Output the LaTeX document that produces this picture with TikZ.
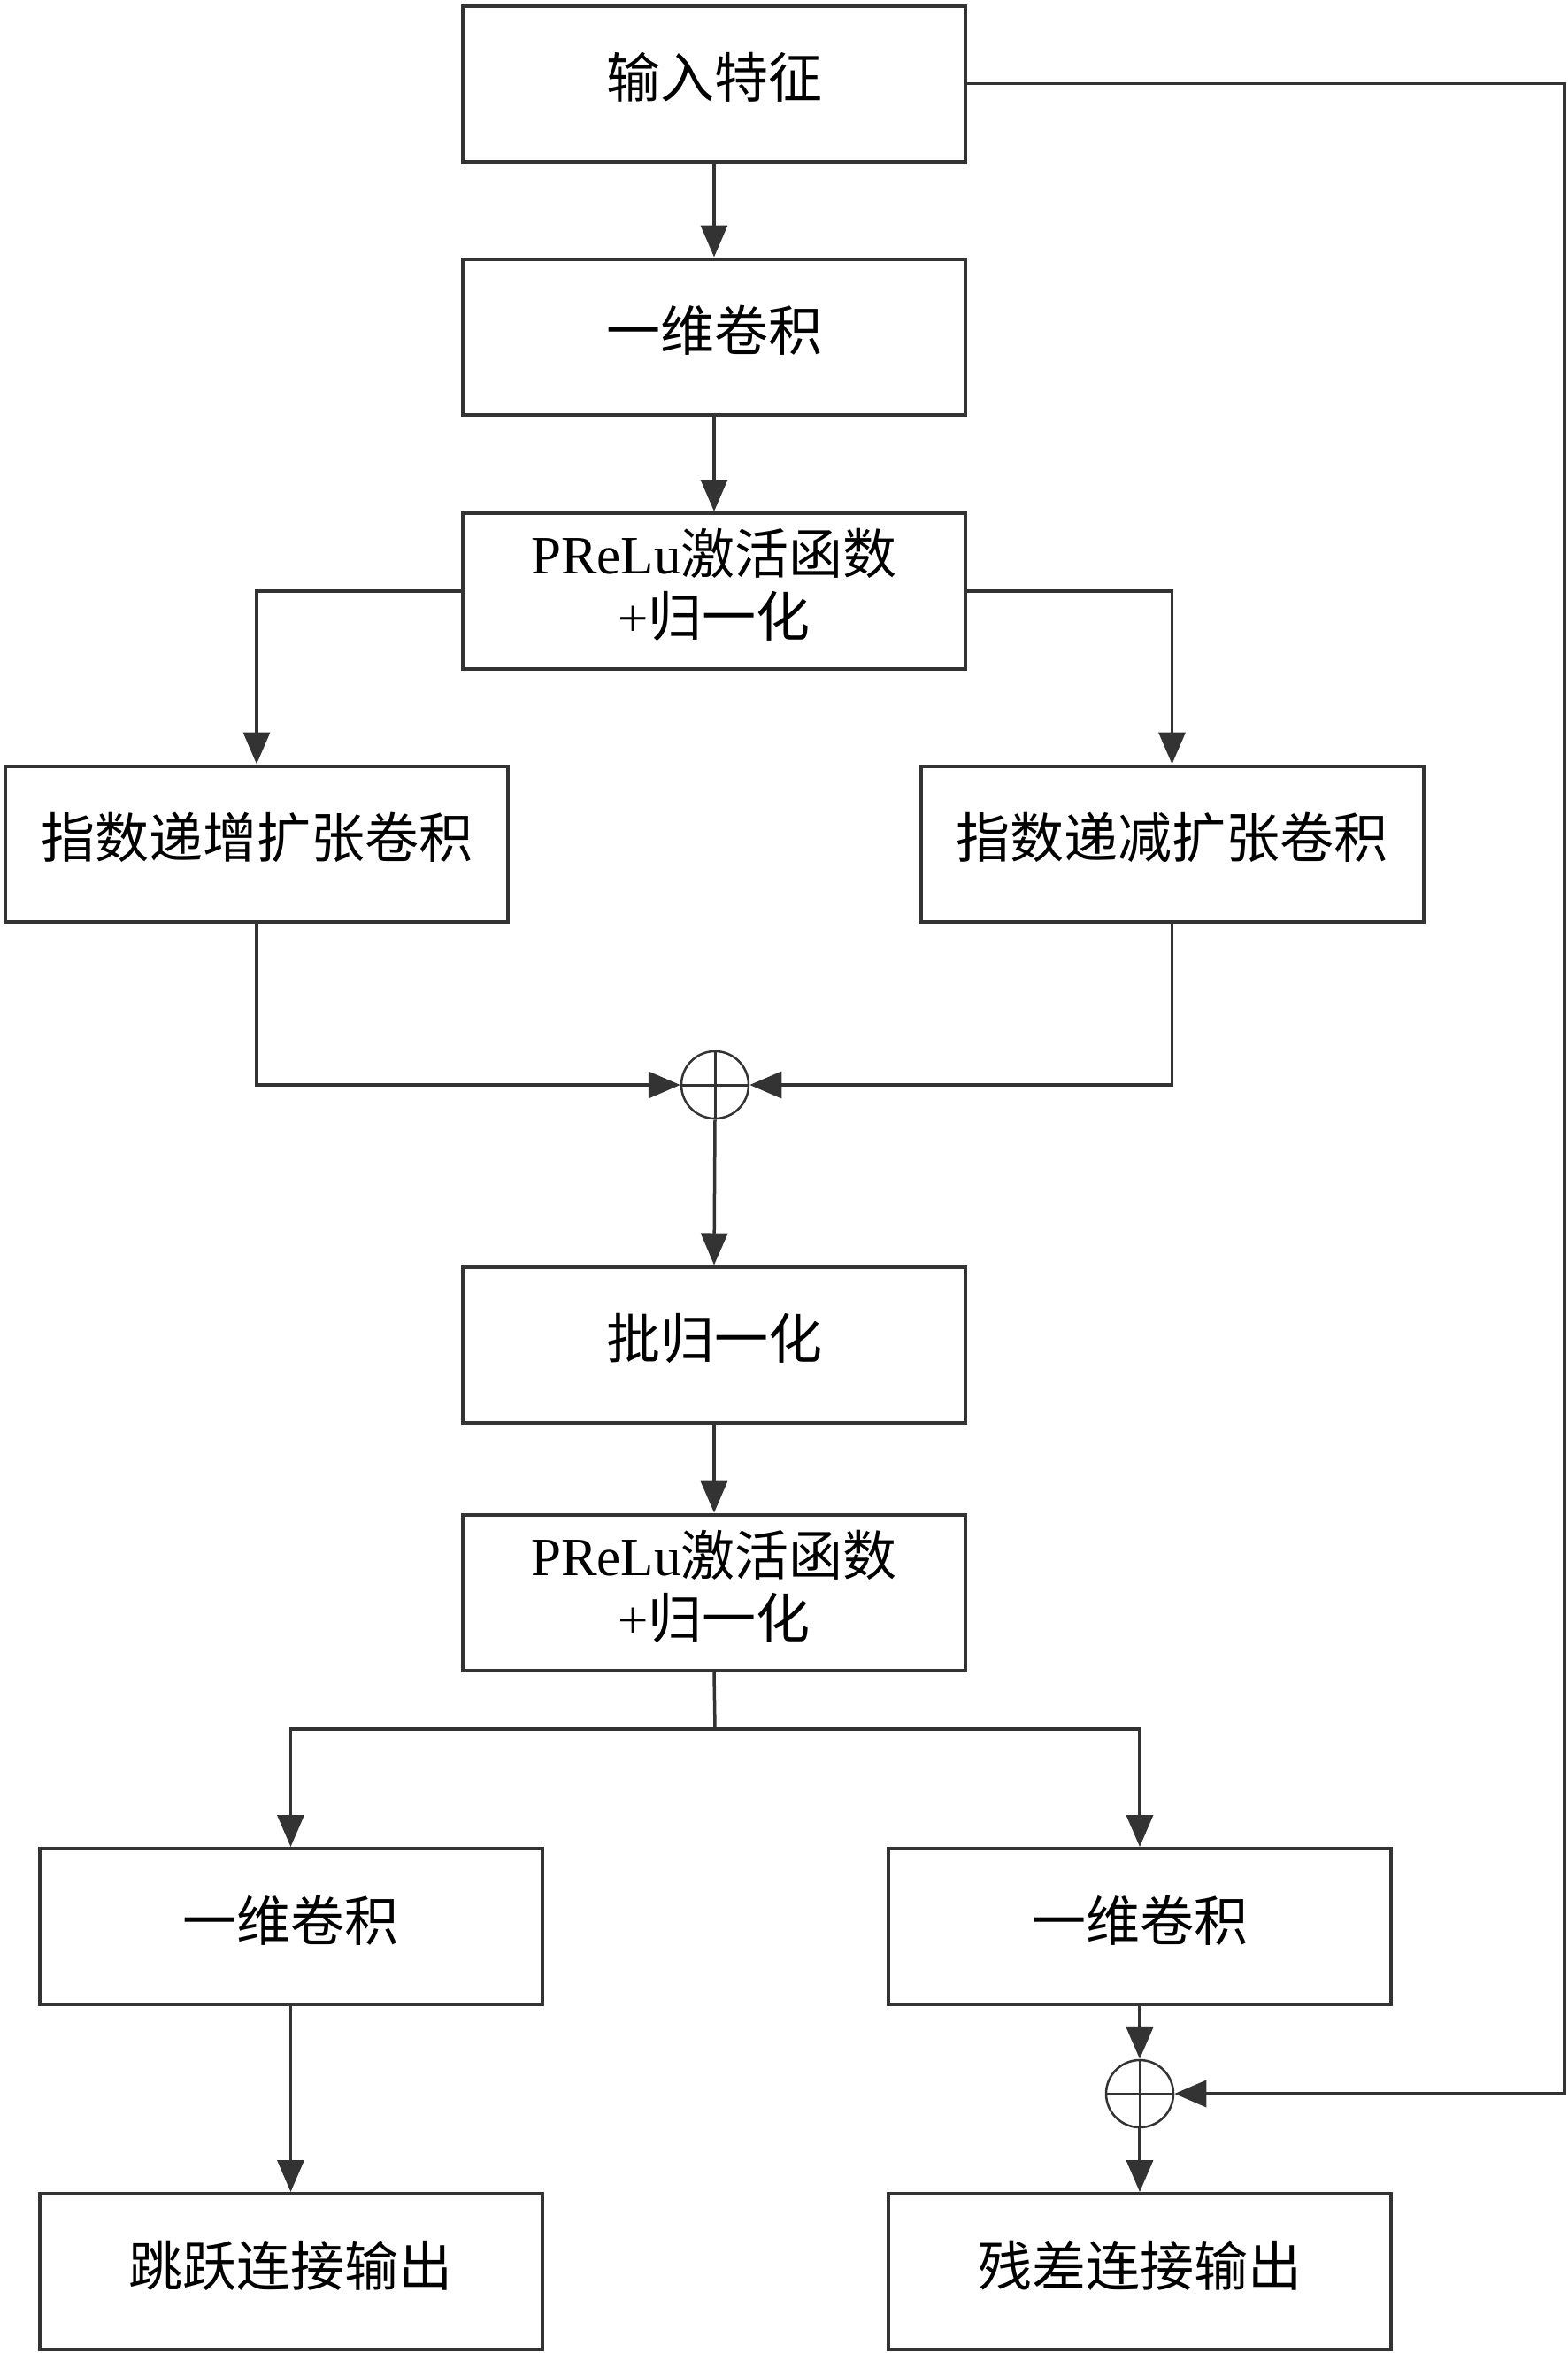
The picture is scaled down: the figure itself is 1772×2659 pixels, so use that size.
\documentclass[tikz,border=0pt]{standalone}
\usepackage{fontspec}
\setmainfont{Liberation Serif}
\newfontfamily\cjk{Noto Sans CJK SC}
\usetikzlibrary{arrows.meta}
\definecolor{linec}{HTML}{333333}
\tikzset{
  box/.style={draw=linec, line width=4pt, rectangle, minimum width=568pt, minimum height=176pt,
    inner sep=0pt, align=center, text depth=19pt, font=\fontsize{61}{71}\selectfont},
  sumnode/.style={draw=linec, circle, line width=2.5pt, minimum size=76pt, inner sep=0pt},
  conn/.style={draw=linec, line width=3.5pt},
  arr/.style={conn, -{Triangle[length=36pt,width=30pt]}},
}
\begin{document}
\begin{tikzpicture}[x=1pt,y=-1pt]
\useasboundingbox (0,0) rectangle (1772,2659);
\fill[white] (0,0) rectangle (1772,2659);
\node[box] (in) at (807,94.5) {\cjk 输入特征};
\node[box] (c0) at (807,380.5) {\cjk 一维卷积};
\node[box] (p1) at (807,668) {PReLu{\cjk 激活函数}\\+{\cjk 归一化}};
\node[box] (inc) at (290,953.5) {\cjk 指数递增扩张卷积};
\node[box] (dec) at (1324.5,953.5) {\cjk 指数递减扩张卷积};
\node[sumnode] (s1) at (808,1226) {};
\node[box] (bn) at (807,1519.5) {\cjk 批归一化};
\node[box] (p2) at (807,1799.5) {PReLu{\cjk 激活函数}\\+{\cjk 归一化}};
\node[box] (c1) at (328.5,2177) {\cjk 一维卷积};
\node[box] (c2) at (1288,2177) {\cjk 一维卷积};
\node[sumnode] (s2) at (1288,2366) {};
\node[box] (o1) at (328.5,2567) {\cjk 跳跃连接输出};
\node[box] (o2) at (1288,2567) {\cjk 残差连接输出};
\coordinate (split) at (808,1954);
\coordinate (fb1) at (1768,94.5);
\coordinate (fb2) at (1768,2366);
% crosses
\draw[conn, line width=3pt] (s1.north) -- (s1.south);
\draw[conn, line width=3pt] (s1.west) -- (s1.east);
\draw[conn, line width=3pt] (s2.north) -- (s2.south);
\draw[conn, line width=3pt] (s2.west) -- (s2.east);
% connectors
\draw[arr] (in) -- (c0);
\draw[arr] (c0) -- (p1);
\draw[arr] (p1.west) -| (inc.north);
\draw[arr] (p1.east) -| (dec.north);
\draw[arr] (inc.south) |- (s1.west);
\draw[arr] (dec.south) |- (s1.east);
\draw[arr] (s1.south) -- (bn.north);
\draw[arr] (bn) -- (p2);
\draw[conn] (p2.south) -- (split);
\draw[arr] (split) -| (c1.north);
\draw[arr] (split) -| (c2.north);
\draw[arr] (c1) -- (o1);
\draw[arr] (c2.south) -- (s2.north);
\draw[arr] (s2.south) -- (o2.north);
\draw[arr] (in.east) -- (fb1) -- (fb2) -- (s2.east);
\end{tikzpicture}
\end{document}
